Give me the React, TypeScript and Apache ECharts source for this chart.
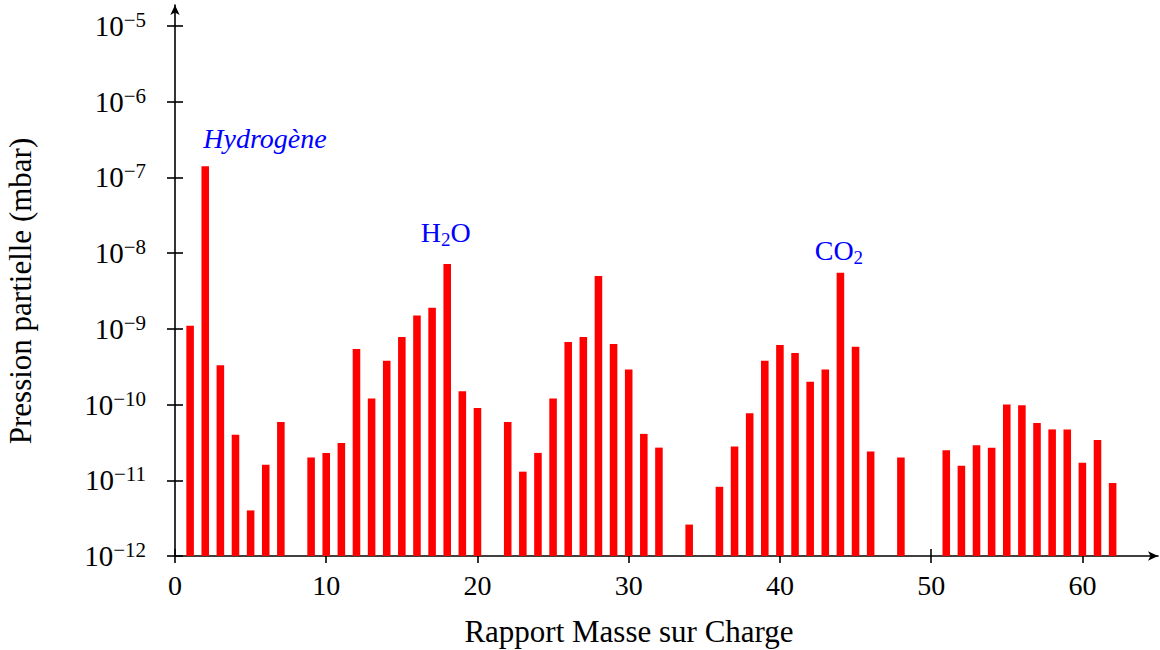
import React, { useEffect, useRef } from "react";
import * as echarts from "echarts";

// Mass-to-charge ratios and partial pressures (mbar)
const masses = [
  1, 2, 3, 4, 5, 6, 7,
  9, 10, 11, 12, 13, 14, 15, 16, 17, 18, 19, 20,
  22, 23, 24, 25, 26, 27, 28, 29, 30, 31, 32,
  34,
  36, 37, 38, 39, 40, 41, 42, 43, 44, 45, 46,
  48,
  51, 52, 53, 54, 55, 56, 57, 58, 59, 60, 61, 62,
];
const pressures = [
  1.1e-9, 1.4e-7, 3.3e-10, 4.0e-11, 4.0e-12, 1.6e-11, 5.9e-11,
  2.0e-11, 2.3e-11, 3.1e-11, 5.4e-10, 1.2e-10, 3.8e-10, 7.8e-10, 1.5e-9, 1.9e-9, 7.2e-9, 1.5e-10, 9.0e-11,
  5.9e-11, 1.3e-11, 2.3e-11, 1.2e-10, 6.7e-10, 7.8e-10, 5.0e-9, 6.3e-10, 2.9e-10, 4.1e-11, 2.7e-11,
  2.6e-12,
  8.2e-12, 2.8e-11, 7.7e-11, 3.8e-10, 6.1e-10, 4.8e-10, 2.0e-10, 2.9e-10, 5.5e-9, 5.8e-10, 2.4e-11,
  2.0e-11,
  2.5e-11, 1.55e-11, 2.9e-11, 2.7e-11, 1.0e-10, 9.8e-11, 5.7e-11, 4.7e-11, 4.7e-11, 1.7e-11, 3.4e-11, 9.2e-12,
];

const xTickValues = [0, 10, 20, 30, 40, 50, 60];
const yTickValues = [1e-12, 1e-11, 1e-10, 1e-9, 1e-8, 1e-7, 1e-6, 1e-5];

const annotationNames = ["Hydrogène", "H2O", "CO2"];
const annotationX = [5.95, 17.9, 43.9];
const annotationY = [3.3e-7, 1.9e-8, 1.1e-8];

const xTitle = "Rapport Masse sur Charge";
const yTitle = "Pression partielle (mbar)";

const FONT = "'Liberation Serif', 'Times New Roman', serif";

export default function App() {
  const ref = useRef<HTMLDivElement>(null);

  useEffect(() => {
    document.body.style.margin = "0";
    if (!ref.current) return;
    const chart = echarts.init(ref.current, undefined, { renderer: "svg" });

    const axisLineStyle = { color: "#000", width: 1.6 };

    const yLabelFormatter = (v: number) => {
      const e = Math.round(Math.log10(v));
      return `{b|10}{s|−${Math.abs(e)}}`;
    };

    const annFormatter = (p: any) => {
      const name = annotationNames[p.dataIndex];
      if (p.dataIndex === 0) return `{i|${name}}`;
      return name.replace(
        /(\D+)(\d)(\D*)/,
        (_m: string, a: string, d: string, c: string) => `{n|${a}}{sub|${d}}` + (c ? `{n|${c}}` : "")
      );
    };

    const option: any = {
      animation: false,
      grid: [
        { left: 175, right: 2, top: 26, bottom: 94, containLabel: false, outerBoundsMode: "none" },
        { left: 175, right: 2, top: 5, bottom: 94, containLabel: false, outerBoundsMode: "none" },
      ],
      xAxis: [
        {
          type: "value",
          gridIndex: 0,
          position: "bottom",
          min: 0,
          max: 65,
          axisLine: {
            show: true,
            onZero: false,
            lineStyle: axisLineStyle,
            symbol: ["none", "arrow"],
            symbolSize: [7, 10],
          },
          axisTick: { show: true, length: 7, lineStyle: axisLineStyle, customValues: xTickValues },
          axisLabel: {
            margin: 15,
            fontSize: 28,
            color: "#000",
            fontFamily: FONT,
            customValues: xTickValues,
          },
          splitLine: { show: false },
        },
        {
          type: "value",
          gridIndex: 0,
          position: "bottom",
          min: 0,
          max: 65,
          axisLine: { show: false, onZero: false },
          axisTick: { show: true, inside: true, length: 7, lineStyle: axisLineStyle, customValues: xTickValues },
          axisLabel: { show: false },
          splitLine: { show: false },
        },
        { type: "value", gridIndex: 1, min: 0, max: 65, show: false },
      ],
      yAxis: [
        {
          type: "log",
          logBase: 10,
          gridIndex: 0,
          position: "left",
          min: 1e-12,
          max: 1e-5,
          axisLine: { show: false, onZero: false },
          axisTick: { show: true, length: 8, lineStyle: axisLineStyle, customValues: yTickValues },
          axisLabel: {
            margin: 29,
            color: "#000",
            fontFamily: FONT,
            formatter: yLabelFormatter,
            customValues: yTickValues,
            rich: {
              b: { fontSize: 29, fontFamily: FONT, color: "#000" },
              s: { fontSize: 21, fontFamily: FONT, color: "#000", padding: [0, 0, 12, 0] },
            },
          },
          splitLine: { show: false },
          name: yTitle,
          nameLocation: "middle",
          nameGap: 139,
          nameRotate: 90,
          nameTextStyle: { fontSize: 31, fontFamily: FONT, color: "#000" },
        },
        {
          type: "log",
          logBase: 10,
          gridIndex: 0,
          position: "left",
          min: 1e-12,
          max: 1e-5,
          axisLine: { show: false, onZero: false },
          axisTick: { show: true, inside: true, length: 8, lineStyle: axisLineStyle, customValues: yTickValues },
          axisLabel: { show: false },
          splitLine: { show: false },
        },
        {
          type: "value",
          gridIndex: 1,
          position: "left",
          min: 0,
          max: 1,
          axisLine: {
            show: true,
            onZero: false,
            lineStyle: axisLineStyle,
            symbol: ["none", "arrow"],
            symbolSize: [7, 10],
          },
          axisTick: { show: false },
          axisLabel: { show: false },
          splitLine: { show: false },
        },
      ],
      series: [
        {
          type: "custom",
          xAxisIndex: 0,
          yAxisIndex: 0,
          data: masses.map((m, i) => [m, pressures[i]]),
          encode: { x: 0, y: 1 },
          renderItem: (_params: any, api: any) => {
            const x = api.value(0);
            const y = api.value(1);
            const top = api.coord([x, y]);
            const base = api.coord([x, 1e-12]);
            const l = api.coord([x - 0.25, y])[0];
            const r = api.coord([x + 0.25, y])[0];
            return {
              type: "rect",
              shape: { x: l, y: top[1], width: r - l, height: base[1] - top[1] },
              style: { fill: "#ff0000" },
            };
          },
        },
        {
          type: "scatter",
          xAxisIndex: 0,
          yAxisIndex: 0,
          symbolSize: 0,
          itemStyle: { opacity: 1 },
          data: annotationX.map((x, i) => [x, annotationY[i]]),
          label: {
            show: true,
            position: "inside",
            opacity: 1,
            formatter: annFormatter,
            rich: {
              i: { fontSize: 28, fontStyle: "italic", fontFamily: FONT, color: "#0000ff", opacity: 1 },
              n: { fontSize: 28, fontFamily: FONT, color: "#0000ff", opacity: 1 },
              sub: { fontSize: 19, fontFamily: FONT, color: "#0000ff", opacity: 1, padding: [14, 0, 0, 0] },
            },
          },
          silent: true,
        },
      ],
      graphic: [
        {
          type: "text",
          x: 629,
          y: 631,
          style: {
            text: xTitle,
            fontSize: 31,
            fontFamily: FONT,
            fill: "#000",
            align: "center",
            verticalAlign: "middle",
          },
        },
      ],
    };

    chart.setOption(option);
    return () => chart.dispose();
  }, []);

  return <div ref={ref} style={{ width: 1160, height: 650 }} />;
}
